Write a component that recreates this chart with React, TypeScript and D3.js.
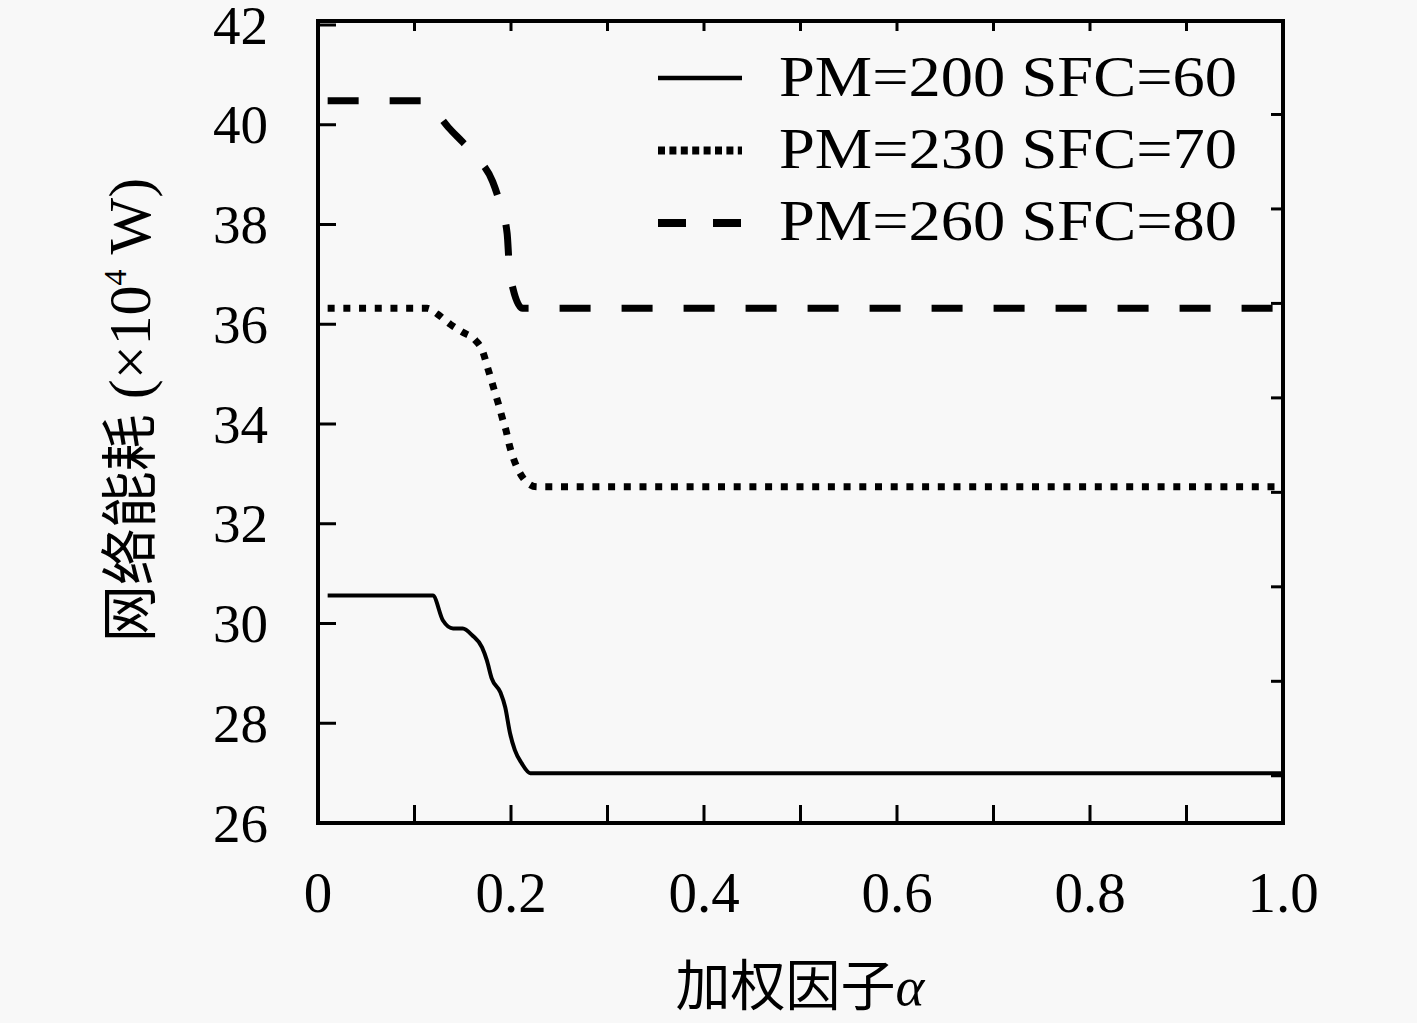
import React from "react";
import * as d3 from "d3";

const W = 1417;
const H = 1023;

const xTicks = [0, 0.1, 0.2, 0.3, 0.4, 0.5, 0.6, 0.7, 0.8, 0.9, 1.0];
const xTickLabels = ["0", "", "0.2", "", "0.4", "", "0.6", "", "0.8", "", "1.0"];
const yTicks = [26, 28, 30, 32, 34, 36, 38, 40, 42];
const y2Ticks = [0.5, 1.5, 2.5, 3.5, 4.5, 5.5, 6.5, 7.5];

const alphaA = [0.01, 0.119, 0.1295, 0.14, 0.15, 0.16, 0.17, 0.175, 0.18, 0.189, 0.194, 0.199, 0.204, 0.211, 0.22, 1.0];
const valuesA = [30.56, 30.56, 30.06, 29.9, 29.9, 29.76, 29.52, 29.26, 28.9, 28.62, 28.32, 27.8, 27.46, 27.2, 27.0, 27.0];

const alphaB = [0.01, 0.113, 0.124, 0.137, 0.15, 0.163, 0.171, 0.175, 0.179, 0.183, 0.187, 0.191, 0.195, 0.198, 0.202, 0.207, 0.215, 0.227, 1.0];
const valuesB = [36.32, 36.32, 36.2, 36.0, 35.84, 35.68, 35.44, 35.18, 34.92, 34.66, 34.4, 34.12, 33.86, 33.6, 33.34, 33.1, 32.86, 32.74, 32.74];

const alphaC = [0.01, 0.108, 0.12, 0.135, 0.15, 0.166, 0.181, 0.19, 0.196, 0.198, 0.202, 0.212, 0.223, 1.0];
const valuesC = [40.48, 40.48, 40.3, 39.95, 39.65, 39.32, 38.86, 38.32, 37.82, 37.22, 36.72, 36.32, 36.32, 36.32];

const seriesNames = ["PM=200 SFC=60", "PM=230 SFC=70", "PM=260 SFC=80"];

const serif = "'Liberation Serif', 'DejaVu Serif', serif";
const cjk = "'Noto Sans CJK SC', 'Noto Sans', sans-serif";

export default function App() {
  const left = 318, right = 1283, top = 21, bottom = 823;
  const x = d3.scaleLinear().domain([0, 1]).range([left, right]);
  const y = d3.scaleLinear().domain([26, 42]).range([bottom, 25]);
  const y2 = d3.scaleLinear().domain([0, 8.5]).range([bottom, 20]);

  const line = d3
    .line<[number, number]>()
    .x((d) => x(d[0]))
    .y((d) => y(d[1]))
    .curve(d3.curveMonotoneX);

  const series = [
    { a: alphaA, v: valuesA, width: 4, dash: "none", legDash: "none", legWidth: 4.5 },
    { a: alphaB, v: valuesB, width: 7, dash: "7 8.7", legDash: "7 4.4", legWidth: 8 },
    { a: alphaC, v: valuesC, width: 7, dash: "31 31", legDash: "28 27", legWidth: 8 },
  ];

  return (
    <svg
      width={W}
      height={H}
      style={{ position: "absolute", left: 0, top: 0, background: "#f8f8f8" }}
    >
      <rect x={0} y={0} width={W} height={H} fill="#f8f8f8" />
      {/* curves */}
      {series.map((s, i) => (
        <path
          key={i}
          d={line(s.a.map((a, j) => [a, s.v[j]] as [number, number])) || ""}
          fill="none"
          stroke="#000"
          strokeWidth={s.width}
          strokeDasharray={s.dash}
          strokeLinejoin="round"
        />
      ))}
      {/* ticks bottom & top */}
      {xTicks.map((t, i) => (
        <g key={"xt" + i}>
          <line x1={x(t)} x2={x(t)} y1={bottom} y2={bottom - 18} stroke="#000" strokeWidth={3} />
          <line x1={x(t)} x2={x(t)} y1={top} y2={top + 10} stroke="#000" strokeWidth={3} />
          {xTickLabels[i] && (
            <text x={x(t)} y={912} textAnchor="middle" fontFamily={serif} fontSize={57} fill="#000">
              {xTickLabels[i]}
            </text>
          )}
        </g>
      ))}
      {/* left ticks */}
      {yTicks.map((t, i) => (
        <g key={"yt" + i}>
          <line x1={left} x2={left + 18} y1={y(t)} y2={y(t)} stroke="#000" strokeWidth={3} />
          <text x={268} y={y(t)} dy="0.34em" textAnchor="end" fontFamily={serif} fontSize={55} fill="#000">
            {t}
          </text>
        </g>
      ))}
      {/* right ticks */}
      {y2Ticks.map((t, i) => (
        <line key={"y2" + i} x1={right} x2={right - 12} y1={y2(t)} y2={y2(t)} stroke="#000" strokeWidth={3} />
      ))}
      {/* frame */}
      <rect x={left} y={top} width={right - left} height={bottom - top} fill="none" stroke="#000" strokeWidth={4} />
      {/* legend */}
      {series.map((s, i) => (
        <g key={"lg" + i}>
          <line
            x1={658}
            x2={742}
            y1={78 + i * 72.5}
            y2={78 + i * 72.5}
            stroke="#000"
            strokeWidth={s.legWidth}
            strokeDasharray={s.legDash}
          />
          <text
            x={779}
            y={96 + i * 72}
            fontFamily={serif}
            fontSize={56}
            fill="#000"
            textLength={458}
            lengthAdjust="spacingAndGlyphs"
          >
            {seriesNames[i]}
          </text>
        </g>
      ))}
      {/* x axis label */}
      <text x={800} y={1005} textAnchor="middle" fontSize={55} fill="#000">
        <tspan fontFamily={cjk}>加权因子</tspan>
        <tspan fontFamily={serif} fontStyle="italic">α</tspan>
      </text>
      {/* y axis label */}
      <text
        transform={`translate(150, 410) rotate(-90)`}
        textAnchor="middle"
        fontSize={57}
        fill="#000"
      >
        <tspan fontFamily={cjk}>网络能耗</tspan>
        <tspan fontFamily={serif} fontSize={60}> (×10</tspan>
        <tspan fontFamily={serif} fontSize={32} dy={-24}>4</tspan>
        <tspan fontFamily={serif} fontSize={60} dy={24}> W)</tspan>
      </text>
    </svg>
  );
}
